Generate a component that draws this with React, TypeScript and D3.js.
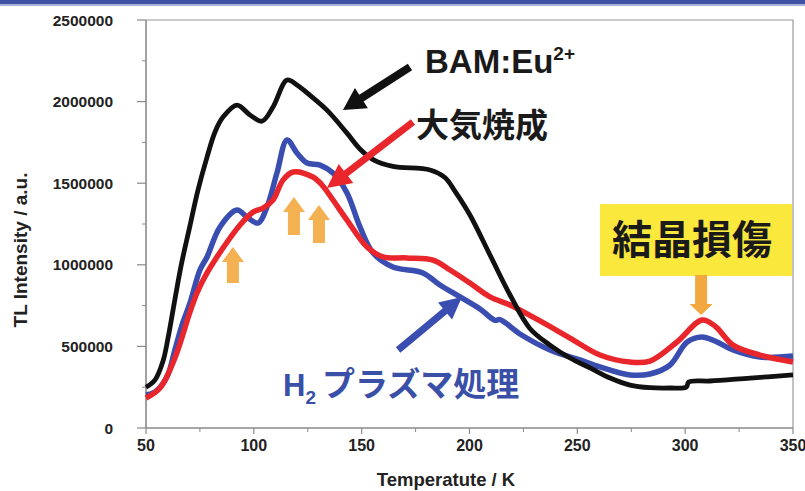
import React from 'react';
import * as d3 from 'd3';

// TL glow curves: [temperature K, intensity a.u.]
const bamEu: [number, number][] = [
  [50, 250000], [54.2, 295000], [57.9, 410000], [60.2, 550000], [62.5, 720000],
  [66.2, 990000], [70.4, 1240000], [74.1, 1458000], [78.3, 1660000], [82.0, 1814000],
  [85.7, 1905000], [92.2, 1979000], [98.2, 1918000], [103.8, 1880000], [108.9, 1967000],
  [115.4, 2132000], [120.0, 2102000], [124.7, 2053000], [133.9, 1948000], [143.2, 1807000],
  [149.2, 1710000], [155.3, 1645000], [164.5, 1603000], [181.7, 1581000], [188.6, 1535000],
  [193.3, 1450000], [200.2, 1305000], [209.5, 1060000], [218.8, 815000], [228.0, 610000],
  [237.3, 508000], [246.6, 429000], [255.9, 368000], [265.2, 306000], [274.4, 263000],
  [283.7, 247000], [293.0, 245000], [300.6, 251000], [301.6, 282000], [311.5, 288000],
  [330.1, 306000], [350, 325000],
];

const taikiShosei: [number, number][] = [
  [50, 184000], [56.5, 245000], [63.4, 429000], [70.4, 711000], [73.6, 827000],
  [78.3, 950000], [85.7, 1103000], [93.6, 1244000], [99.6, 1323000], [104.3, 1348000],
  [108.9, 1397000], [113.5, 1519000], [118.2, 1569000], [127.4, 1538000], [131.6, 1489000],
  [136.7, 1397000], [143.2, 1274000], [152.5, 1109000], [159.9, 1048000], [171.0, 1042000],
  [183.1, 1029000], [191.0, 968000], [200.2, 888000], [209.5, 803000], [218.8, 754000],
  [232.7, 656000], [246.6, 551000], [260.5, 447000], [274.4, 404000], [283.7, 410000],
  [296.2, 527000], [307.8, 662000], [313.8, 625000], [322.2, 508000], [334.7, 447000],
  [350, 404000],
];

const h2Plasma: [number, number][] = [
  [50, 202000], [54.2, 221000], [59.7, 312000], [63.4, 478000], [66.7, 631000],
  [70.4, 766000], [75.0, 968000], [78.3, 1048000], [84.3, 1232000], [92.2, 1336000],
  [96.8, 1293000], [101.9, 1256000], [106.1, 1354000], [110.7, 1562000], [115.4, 1765000],
  [120.0, 1685000], [124.7, 1624000], [130.7, 1611000], [136.7, 1562000], [143.2, 1440000],
  [149.2, 1232000], [155.3, 1072000], [164.5, 986000], [178.4, 950000], [186.3, 876000],
  [195.6, 803000], [204.9, 729000], [211.8, 660000], [214.1, 664000], [223.4, 576000],
  [237.3, 478000], [251.2, 417000], [260.5, 374000], [274.4, 325000], [283.7, 331000],
  [293.0, 386000], [300.9, 527000], [307.8, 558000], [313.8, 533000], [322.2, 478000],
  [334.7, 435000], [350, 441000],
];

const xTicks = [50, 100, 150, 200, 250, 300, 350];
const yTicks = [0, 500000, 1000000, 1500000, 2000000, 2500000];

// annotation arrows, in data coordinates: [T1, V1, T2, V2] (tail -> tip)
const blackArrow = [172.4, 2212000, 141.3, 1948000];
const redArrow = [173.8, 1875000, 133.9, 1470000];
const blueArrow = [166.9, 478000, 196.5, 803000];
const orangeUp = [
  [90.3, 888000, 90.3, 1109000],
  [118.6, 1182000, 118.6, 1415000],
  [130.2, 1133000, 130.2, 1366000],
];
const orangeDown = [307.4, 937000, 307.4, 692000];

const W = 805;
const H = 491;
const x = d3.scaleLinear().domain([50, 350]).range([146, 793]);
const y = d3.scaleLinear().domain([0, 2500000]).range([428, 20]);

const line = d3.line<[number, number]>()
  .x(d => x(d[0]))
  .y(d => y(d[1]))
  .curve(d3.curveCatmullRom.alpha(0.5));

function blockArrow(a: number[], shaft: number, headW: number, headL: number) {
  const x1 = x(a[0]), y1 = y(a[1]), x2 = x(a[2]), y2 = y(a[3]);
  const dx = x2 - x1, dy = y2 - y1, len = Math.hypot(dx, dy);
  const ux = dx / len, uy = dy / len, px = -uy, py = ux;
  const bx = x2 - ux * headL, by = y2 - uy * headL;
  const pts = [
    [x1 + px * shaft / 2, y1 + py * shaft / 2],
    [bx + px * shaft / 2, by + py * shaft / 2],
    [bx + px * headW / 2, by + py * headW / 2],
    [x2, y2],
    [bx - px * headW / 2, by - py * headW / 2],
    [bx - px * shaft / 2, by - py * shaft / 2],
    [x1 - px * shaft / 2, y1 - py * shaft / 2],
  ];
  return pts.map(p => p.join(',')).join(' ');
}

const latin = "'Liberation Sans', Arial, sans-serif";
const cjk = "'Noto Sans CJK JP', 'Noto Sans', sans-serif";

export default function App() {
  const minorX = d3.range(75, 350, 50);
  const minorY = d3.range(250000, 2500000, 500000);
  const orange = '#f2a83e';

  return (
    <svg width={W} height={H} style={{ position: 'absolute', left: 0, top: 0, background: '#fff' }}>
      <rect x={0} y={0} width={W} height={4} fill="#3f51a3" />
      <rect x={0} y={4} width={W} height={2} fill="#a7b1dc" />

      {/* frame */}
      <path d={`M${x(50)},${y(2500000)}H${x(350)}V${y(0)}`} fill="none" stroke="#9a9a9a" strokeWidth={1.2} />
      <line x1={x(50)} x2={x(350)} y1={y(0)} y2={y(0)} stroke="#8a8a8a" strokeWidth={1.6} />
      <line x1={x(50)} x2={x(50)} y1={y(0)} y2={y(2500000)} stroke="#8a8a8a" strokeWidth={1.6} />

      {yTicks.map(t => (
        <g key={'y' + t}>
          <line x1={x(50) - 9} x2={x(50)} y1={y(t)} y2={y(t)} stroke="#8a8a8a" strokeWidth={1.2} />
          <text x={113} y={y(t)} dy="0.36em" textAnchor="end" fontFamily={latin} fontWeight="bold" fontSize={15.5} fill="#222">{t}</text>
        </g>
      ))}
      {minorY.map(t => (
        <line key={'my' + t} x1={x(50) - 4} x2={x(50)} y1={y(t)} y2={y(t)} stroke="#8a8a8a" strokeWidth={1} />
      ))}
      {xTicks.map(t => (
        <g key={'x' + t}>
          <line x1={x(t)} x2={x(t)} y1={y(0)} y2={y(0) + 6} stroke="#8a8a8a" strokeWidth={1.2} />
          <text x={x(t)} y={451} textAnchor="middle" fontFamily={latin} fontWeight="bold" fontSize={16} fill="#222">{t}</text>
        </g>
      ))}
      {minorX.map(t => (
        <line key={'mx' + t} x1={x(t)} x2={x(t)} y1={y(0)} y2={y(0) + 4} stroke="#8a8a8a" strokeWidth={1} />
      ))}

      <text x={446} y={486} textAnchor="middle" fontFamily={latin} fontWeight="bold" fontSize={18.5} fill="#222">Temperatute / K</text>
      <text transform="translate(27,250) rotate(-90)" textAnchor="middle" fontFamily={latin} fontWeight="bold" fontSize={19} fill="#222">TL Intensity / a.u.</text>

      {/* curves */}
      <path d={line(h2Plasma) || ''} fill="none" stroke="#3a4db0" strokeWidth={5.5} strokeLinejoin="round" />
      <path d={line(taikiShosei) || ''} fill="none" stroke="#e8262b" strokeWidth={5.5} strokeLinejoin="round" />
      <path d={line(bamEu) || ''} fill="none" stroke="#111" strokeWidth={4.8} strokeLinejoin="round" />

      {/* annotations */}
      <polygon points={blockArrow(blackArrow, 8, 24, 22)} fill="#111" />
      <polygon points={blockArrow(redArrow, 7, 24, 24)} fill="#e8262b" />
      <polygon points={blockArrow(blueArrow, 7, 22, 22)} fill="#3a4db0" />
      {orangeUp.map((a, i) => (
        <polygon key={'o' + i} points={blockArrow(a, 12, 22, 15)} fill={orange} opacity={0.9} />
      ))}

      <rect x={600} y={204} width={192} height={72} fill="#fbe83c" />
      <polygon points={blockArrow(orangeDown, 12, 23, 11)} fill={orange} />
      <text x={612} y={254} fontFamily={cjk} fontWeight="bold" fontSize={40} fill="#1a1a1a">結晶損傷</text>

      <text x={425} y={73} fontFamily={latin} fontWeight="bold" fontSize={33} fill="#1a1a1a">
        BAM:Eu<tspan fontSize={19} dy={-13}>2+</tspan>
      </text>
      <text x={416} y={137} fontFamily={cjk} fontWeight="bold" fontSize={33} fill="#1a1a1a">大気焼成</text>

      <text x={283} y={396} fontFamily={latin} fontWeight="bold" fontSize={31} fill="#3a4fa8">
        H<tspan fontSize={19} dy={8}>2</tspan>
      </text>
      <text x={322} y={396} fontFamily={cjk} fontWeight="bold" fontSize={33} fill="#3a4fa8">プラズマ処理</text>
    </svg>
  );
}
